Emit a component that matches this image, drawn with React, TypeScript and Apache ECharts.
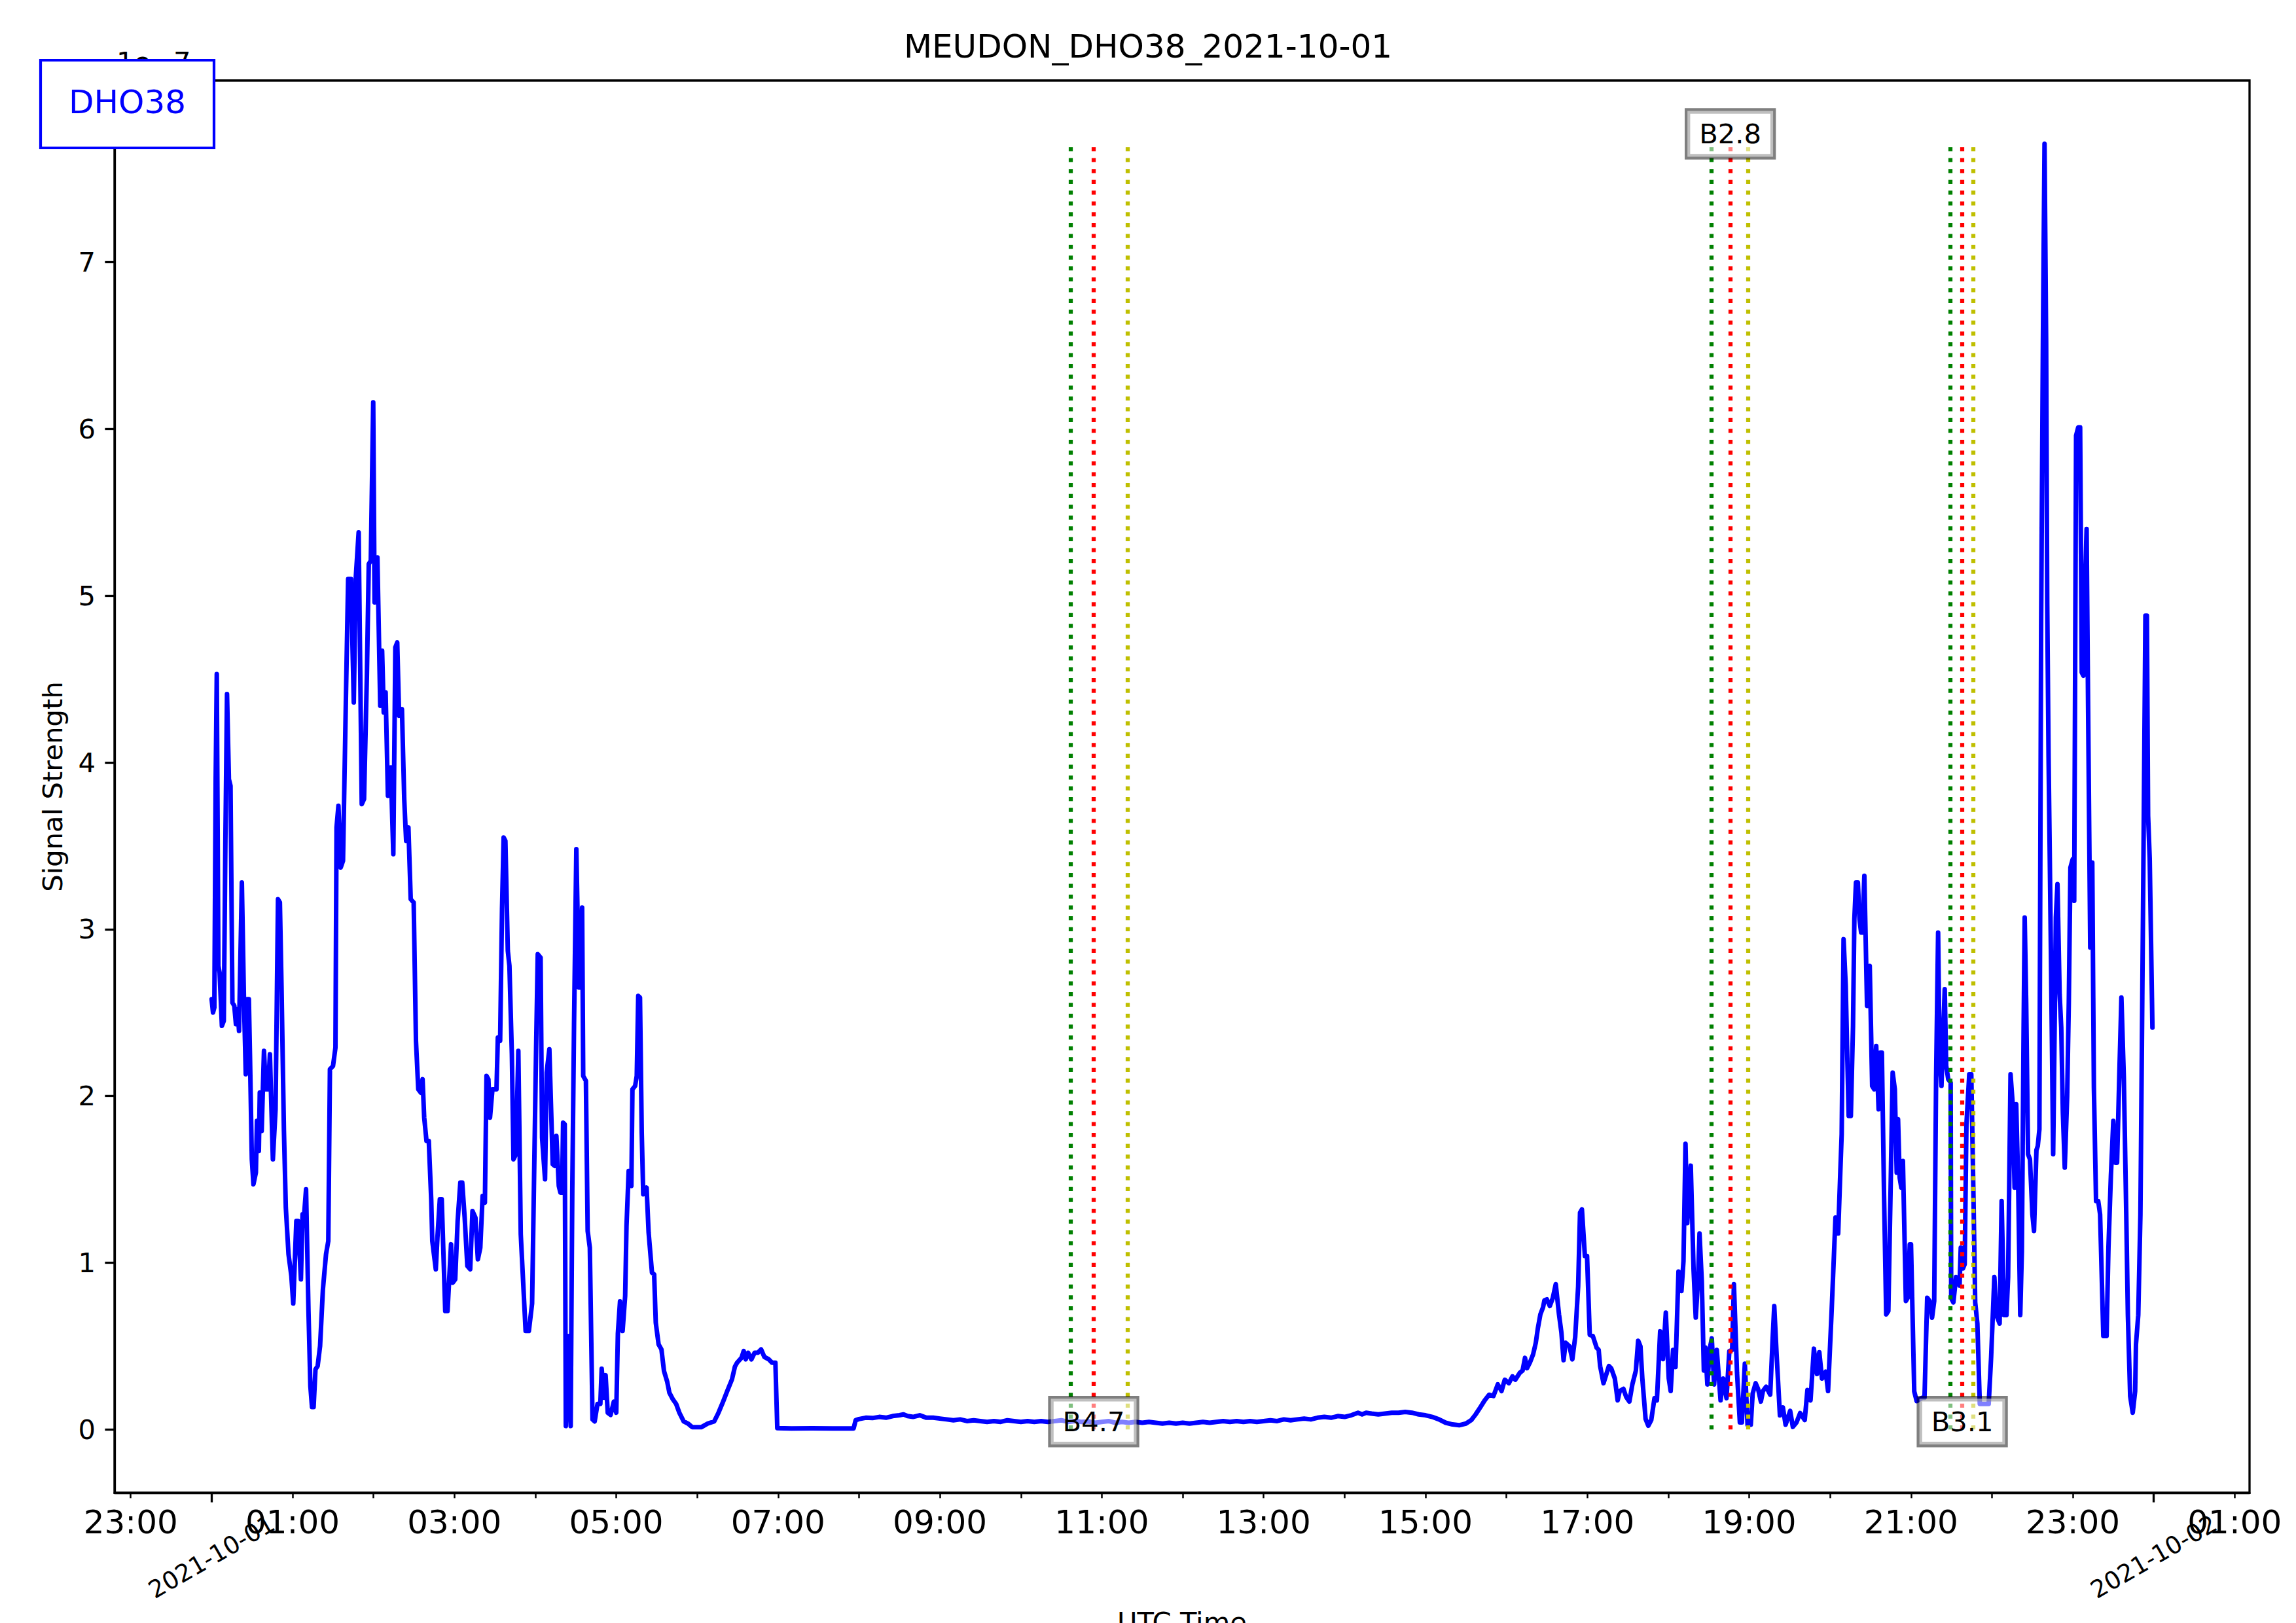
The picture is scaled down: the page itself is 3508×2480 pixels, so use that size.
import React, { useEffect, useRef } from "react";
import * as echarts from "echarts";

const FONT = "DejaVu Sans";

// time in minutes after 2021-10-01 00:00 UTC
const minutes: number[] = [
  0, 1, 2, 3, 3.8, 5.0, 5.9, 7.6, 9.0, 10.2, 11.4, 12.8, 14.0, 15.4, 16.8, 18.0, 19.2, 20.3, 22.4, 24.0,
  25.3, 26.4, 27.6, 28.4, 29.8, 31.0, 32.8, 33.6, 35.0, 35.7, 37.1, 38.8, 40.2, 41.9, 43.2, 45.4, 47.4, 49.2, 50.6, 51.8,
  53.6, 55.0, 57.0, 59.1, 60.5, 62.8, 64.0, 66.2, 67.4, 68.6, 70.0, 71.8, 73.2, 74.4, 75.6, 77.0, 78.6, 80.4, 82.5, 84.8,
  86.5, 87.7, 90.0, 91.8, 92.6, 94.0, 95.7, 97.4, 99.5, 101.2, 103.3, 105.4, 106.8, 109.0, 111.3, 113.0, 115.1, 116.5, 118.0, 119.8,
  120.8, 122.9, 125.0, 126.4, 127.6, 129.0, 130.7, 132.8, 134.7, 136.2, 137.6, 139.0, 141.1, 142.8, 144.2, 145.9, 147.6, 149.8, 151.5, 153.2,
  155.0, 156.4, 157.6, 159.3, 161.0, 162.8, 163.6, 166.2, 167.4, 169.2, 170.6, 173.2, 174.9, 177.5, 178.8, 180.6, 182.4, 184.4, 185.8, 187.6,
  189.6, 191.7, 193.4, 195.6, 197.4, 199.2, 200.9, 202.6, 203.8, 205.2, 206.4, 208.2, 211.2, 212.2, 213.9, 215.3, 216.5, 217.8, 219.6, 220.8,
  222.6, 223.8, 225.6, 227.4, 229.2, 231.0, 232.8, 235.2, 237.6, 240.6, 241.8, 243.9,
  245.0, 247.2, 248.4, 250.4, 252.9, 254.4, 255.6, 257.4, 258.6, 259.8, 260.6, 261.8, 262.6, 265.0, 266.2, 267.4, 268.7, 270.4, 271.5, 272.3,
  273.6, 274.7, 275.5, 277.5, 278.8, 280.4, 282.4, 284.0, 286.1, 288.2, 289.2, 291.0, 292.1, 293.7, 295.8, 298.2, 300.0, 301.2, 302.8, 304.7,
  306.6, 307.6, 309.2, 311.2, 312.0, 314.0, 315.2, 316.3, 317.6, 318.9, 320.0, 322.5, 324.0, 326.5, 328.1, 329.3, 331.4, 333.5, 335.4, 337.8,
  339.4, 342.0, 344.4, 346.8, 350.0, 353.2, 356.4, 363.0, 367.8, 372.6, 375.8, 379.2, 382.3, 385.8, 388.0, 389.6, 392.9, 394.5, 396.0, 397.8,
  400.2, 402.6, 405.0, 407.4, 409.8, 413.1, 415.5, 418.0, 419.4,
  430, 445, 460, 476, 477.5, 480, 485, 490, 495, 500, 505, 510, 513, 516, 520, 525, 530, 535, 540, 545,
  550, 555, 560, 565, 570, 575, 580, 585, 590, 595, 600, 605, 610, 615, 620, 625, 630, 635, 640, 645,
  650, 655, 660, 665, 670, 675, 680, 685, 690, 695, 700, 705, 710, 715, 720, 725, 730, 735, 740, 745,
  750, 755, 760, 765, 770, 775, 780, 785, 790, 795, 800, 805, 810, 815, 820, 825, 830, 835, 840, 845,
  850, 853, 856, 860, 865, 870, 875, 880, 885, 890, 895, 900, 905, 910, 915, 920, 925, 930, 934,
  937.2, 940.6, 943.8, 947.2, 950.4, 953.6, 956.4, 958.8, 961.8, 964.5, 966.6, 969.9, 972.0, 973.8, 975.3, 977.4, 979.8, 981.8, 983.4, 985.2,
  987.2, 988.2, 990.0, 992.2, 994.4, 996.6, 999.0, 1000.8, 1002.4, 1003.9, 1006.8, 1008.9, 1011.0, 1013.2, 1014.6, 1016.0, 1018.2, 1019.8, 1021.8, 1024.1,
  1026.9, 1028.4, 1029.5, 1032.0, 1036.0, 1037.7, 1040.4, 1042.5, 1044.0, 1046.8, 1048.8, 1051.2, 1053.4, 1056.0, 1057.7, 1059.4, 1060.8, 1063.2, 1065.2, 1067.4,
  1069.8, 1071.6, 1074.0, 1076.1, 1078.2, 1080.4, 1081.8, 1083.6, 1085.4, 1087.6, 1089.8, 1091.3, 1092.8, 1094.1, 1096.7, 1098.8, 1100.4, 1102.1, 1103.2, 1104.9,
  1106.4, 1107.5, 1109.0, 1110.8, 1112.3, 1114.0, 1116.0, 1118.8, 1120.8, 1123.2, 1125.3, 1127.4, 1128.7, 1131.0, 1133.1, 1134.6, 1136.8, 1138.8, 1141.2, 1142.6,
  1144.8, 1146.6, 1148.7, 1150.2, 1152.6, 1155.6, 1157.4, 1158.6, 1160.4, 1162.8, 1165.0, 1167.0, 1170.4, 1172.4, 1175.1, 1177.8, 1181.2, 1183.2, 1185.5, 1188.0,
  1190.3, 1192.0, 1194.0, 1196.8, 1198.5, 1201.2, 1204.0, 1206.0, 1207.6, 1208.6, 1210.0, 1211.6, 1212.8, 1213.8, 1215.4, 1217.0, 1218.0, 1219.2, 1220.6, 1221.8,
  1223.0, 1224.0, 1225.4, 1226.7, 1227.4, 1228.7, 1229.4, 1231.2, 1232.7, 1234.2, 1236.0, 1237.2, 1238.4, 1240.0, 1241.6, 1243.2, 1244.8, 1246.4, 1248.0, 1249.4,
  1250.4, 1251.6, 1252.8, 1254.0, 1256.2, 1257.6, 1259.1, 1260.0, 1262.4, 1264.2, 1268.4, 1270.0, 1272.0, 1273.8, 1275.6, 1277.2, 1278.6, 1280.1, 1281.2, 1282.6,
  1283.7, 1285.0, 1286.1, 1287.6, 1289.4, 1289.8, 1291.4, 1293.4, 1296.0, 1296.9, 1298.5, 1299.8, 1301.1, 1303.2, 1304.7, 1306.2, 1307.6, 1309.2, 1311.0, 1314.0,
  1317.6, 1319.4, 1321.8, 1323.3, 1325.7, 1327.2, 1329.0, 1330.8, 1332.0, 1333.8, 1335.4, 1336.8, 1338.0, 1339.4, 1341.0, 1342.2, 1343.5, 1344.3, 1345.4, 1346.8,
  1348.2, 1350.0, 1351.2, 1353.0, 1354.0, 1355.2, 1356.5, 1357.8, 1359.0, 1360.2, 1361.0, 1362.0, 1363.8, 1365.4, 1366.5, 1367.4, 1368.6, 1370.2, 1371.4, 1372.6,
  1374.0, 1375.8, 1377.0, 1378.2, 1379.9, 1381.0, 1382.4, 1384.0, 1385.4, 1386.6, 1387.8, 1389.0, 1390.2, 1391.3, 1392.9, 1394.4, 1395.6, 1397.2, 1398.8, 1400.2,
  1402.6, 1405.0, 1406.4, 1408.2, 1410.0, 1411.5, 1412.8, 1414.4, 1416.0, 1417.8, 1419.6, 1420.8, 1422.5, 1424.4, 1426.2, 1426.8, 1428.5, 1430.1, 1431.2, 1432.5,
  1433.8, 1434.9, 1435.8, 1437.0, 1439.0,
];

// signal strength in units of 1e-7
const signal: number[] = [
  2.58, 2.50, 2.53, 3.90, 4.53, 2.78, 2.74, 2.42, 2.45, 3.53, 4.41, 3.90, 3.86, 2.56, 2.54, 2.43, 2.52, 2.39, 3.28, 2.56,
  2.13, 2.58, 2.58, 2.25, 1.62, 1.47, 1.54, 1.85, 1.67, 2.02, 1.79, 2.27, 2.04, 2.04, 2.25, 1.62, 1.92, 3.18, 3.16, 2.66,
  1.79, 1.33, 1.05, 0.92, 0.755, 1.25, 1.25, 0.90, 1.29, 1.29, 1.44, 0.71, 0.26, 0.134, 0.134, 0.36, 0.38, 0.50, 0.84, 1.05,
  1.13, 2.16, 2.18, 2.29, 3.61, 3.74, 3.37, 3.41, 4.36, 5.10, 5.10, 4.36, 5.10, 5.38, 3.75, 3.78, 4.52, 5.19, 5.21, 6.16,
  4.96, 5.23, 4.34, 4.67, 4.30, 4.42, 3.80, 3.97, 3.45, 4.69, 4.72, 4.28, 4.32, 3.78, 3.53, 3.61, 3.18, 3.16, 2.33, 2.04,
  2.02, 2.10, 1.87, 1.73, 1.73, 1.38, 1.13, 0.96, 1.15, 1.38, 1.38, 0.71, 0.71, 1.11, 0.88, 0.90, 1.25, 1.48, 1.48, 1.27,
  0.98, 0.96, 1.31, 1.27, 1.02, 1.09, 1.40, 1.36, 2.12, 2.10, 1.87, 2.04, 2.04, 2.35, 2.33, 3.12, 3.55, 3.53, 2.87, 2.78,
  2.25, 1.62, 1.65, 2.27, 1.17, 0.88, 0.59, 0.59, 0.755, 2.30, 2.85, 2.83,
  1.75, 1.50, 2.14, 2.28, 1.59, 1.58, 1.76, 1.46, 1.42, 1.42, 1.84, 1.83, 0.02, 0.56, 0.02, 1.43, 2.43, 3.48, 3.01, 2.65,
  2.65, 3.13, 2.12, 2.09, 1.19, 1.09, 0.06, 0.048, 0.153, 0.153, 0.364, 0.19, 0.325, 0.10, 0.087, 0.166, 0.10, 0.575, 0.768, 0.59,
  0.80, 1.22, 1.55, 1.46, 2.04, 2.06, 2.12, 2.60, 2.59, 1.78, 1.41, 1.45, 1.18, 0.94, 0.93, 0.64, 0.51, 0.48, 0.35, 0.285,
  0.22, 0.18, 0.153, 0.10, 0.048, 0.035, 0.013, 0.013, 0.035, 0.048, 0.10, 0.166, 0.23, 0.30, 0.377, 0.40, 0.43, 0.47, 0.42, 0.46,
  0.42, 0.46, 0.46, 0.48, 0.435, 0.42, 0.40, 0.40, 0.008,
  0.006, 0.007, 0.006, 0.006, 0.055, 0.062, 0.07, 0.068, 0.075, 0.07, 0.08, 0.085, 0.09, 0.08, 0.075, 0.085, 0.07, 0.07, 0.065, 0.06,
  0.055, 0.06, 0.05, 0.055, 0.05, 0.045, 0.05, 0.045, 0.055, 0.05, 0.045, 0.05, 0.045, 0.05, 0.045, 0.05, 0.055, 0.045, 0.05, 0.045,
  0.048, 0.04, 0.045, 0.05, 0.04, 0.045, 0.04, 0.045, 0.04, 0.045, 0.04, 0.035, 0.04, 0.035, 0.04, 0.035, 0.04, 0.045, 0.04, 0.045,
  0.05, 0.045, 0.05, 0.045, 0.05, 0.045, 0.05, 0.055, 0.05, 0.06, 0.055, 0.06, 0.065, 0.06, 0.07, 0.075, 0.07, 0.08, 0.075, 0.085,
  0.1, 0.09, 0.1, 0.095, 0.09, 0.095, 0.1, 0.1, 0.105, 0.1, 0.09, 0.085, 0.075, 0.06, 0.04, 0.03, 0.025, 0.035, 0.056,
  0.09, 0.132, 0.173, 0.208, 0.20, 0.27, 0.23, 0.298, 0.277, 0.318, 0.298, 0.339, 0.353, 0.429, 0.367, 0.40, 0.45, 0.52, 0.61, 0.69,
  0.733, 0.774, 0.78, 0.74, 0.788, 0.871, 0.69, 0.58, 0.415, 0.52, 0.498, 0.42, 0.553, 0.857, 1.30, 1.32, 1.04, 1.04, 0.567, 0.56,
  0.49, 0.477, 0.38, 0.277, 0.38, 0.367, 0.305, 0.174, 0.23, 0.243, 0.195, 0.167, 0.27, 0.353, 0.532, 0.498, 0.305, 0.063, 0.022, 0.056,
  0.187, 0.174, 0.588, 0.422, 0.70, 0.305, 0.23, 0.477, 0.374, 0.947, 0.83, 1.009, 1.713, 1.237, 1.582, 0.954, 0.671, 0.899, 1.175, 0.885,
  0.353, 0.491, 0.27, 0.484, 0.546, 0.27, 0.477, 0.174, 0.305, 0.187, 0.47, 0.477, 0.871, 0.339, 0.042, 0.042, 0.394, 0.028, 0.028, 0.215,
  0.277, 0.243, 0.167, 0.23, 0.256, 0.208, 0.54, 0.74, 0.443, 0.084, 0.132, 0.028, 0.111, 0.015, 0.042, 0.098, 0.056, 0.236, 0.174, 0.484,
  0.332, 0.463, 0.305, 0.346, 0.23, 0.719, 1.27, 1.175, 1.548, 1.77, 2.94, 2.66, 2.22, 1.88, 1.88, 2.42, 3.06, 3.28, 3.28, 3.06,
  2.98, 2.98, 3.32, 2.82, 2.54, 2.54, 2.78, 2.06, 2.04, 2.30, 1.92, 2.26, 2.26, 1.41, 0.69, 0.71, 1.41, 2.14, 2.04, 1.54,
  1.86, 1.51, 1.45, 1.61, 0.77, 0.79, 1.11, 1.11, 0.228, 0.17, 0.19, 0.19, 0.79, 0.77, 0.67, 0.77, 2.1, 2.98, 2.22, 2.06,
  2.34, 2.64, 2.18, 2.10, 2.08, 0.787, 0.762, 0.914, 0.863, 1.09, 0.965, 0.99, 1.83, 2.13, 2.13, 1.45, 0.762, 0.635, 0.153, 0.153,
  0.153, 0.432, 0.914, 0.686, 0.635, 1.37, 0.686, 0.686, 0.914, 2.13, 1.95, 1.45, 1.95, 1.50, 0.686, 1.07, 2.41, 3.07, 2.56, 1.65,
  1.62, 1.29, 1.19, 1.675, 1.70, 1.8, 4.85, 6.52, 7.71, 6.52, 4.95, 4.03, 2.82, 1.65, 2.41, 3.07, 3.27, 2.61, 2.41, 1.9,
  1.57, 2.0, 2.56, 3.37, 3.42, 3.17, 5.96, 6.01, 6.01, 4.54, 4.52, 5.05, 5.40, 4.34, 2.89, 3.4, 2.05, 1.37, 1.37, 1.29,
  0.56, 0.56, 1.09, 1.52, 1.85, 1.6, 1.6, 2.11, 2.59, 2.11, 1.29, 0.686, 0.2, 0.1, 0.23, 0.51, 0.686, 1.29, 2.31, 3.57,
  4.88, 4.88, 3.68, 3.42, 2.41,
];

const flareStart = ["10:37", "18:32", "21:29"];
const flarePeak = ["10:54", "18:46", "21:38"];
const flareEnd = ["11:19", "18:59", "21:46"];
const flareClass = ["B4.7", "B2.8", "B3.1"];
const flareLabelLevel = [0.047, 7.77, 0.047];

const hourTickValues = [
  -60, 0, 60, 120, 180, 240, 300, 360, 420, 480, 540, 600, 660, 720, 780, 840, 900, 960, 1020, 1080,
  1140, 1200, 1260, 1320, 1380, 1440, 1500,
];
const hourLabelValues = [-60, 60, 180, 300, 420, 540, 660, 780, 900, 1020, 1140, 1260, 1380, 1500];
const hourLabelText = [
  "23:00", "01:00", "03:00", "05:00", "07:00", "09:00", "11:00", "13:00", "15:00", "17:00", "19:00", "21:00", "23:00", "01:00",
];
const dayTickValues = [0, 1440];
const dayLabelText = ["2021-10-01", "2021-10-02"];
const yTickValues = [0, 1, 2, 3, 4, 5, 6, 7];

const toMin = (s: string) => {
  const [h, m] = s.split(":").map(Number);
  return h * 60 + m;
};

export default function App() {
  const ref = useRef<HTMLDivElement>(null);

  useEffect(() => {
    if (!ref.current) return;
    const chart = echarts.init(ref.current, null, { renderer: "svg" });

    const lineData = minutes.map((m, i) => [m, signal[i]]);
    const vTop = Math.max(...signal);
    const vlineColors = ["#008000", "#ff0000", "#bfbf00"];
    const vlines: any[] = [];
    flareStart.forEach((_, i) => {
      [flareStart[i], flarePeak[i], flareEnd[i]].forEach((t, k) => {
        const x = toMin(t);
        vlines.push({
          coords: [
            [x, 0],
            [x, vTop],
          ],
          lineStyle: { color: vlineColors[k] },
        });
      });
    });
    const labelData = flarePeak.map((t, i) => [toMin(t), flareLabelLevel[i]]);

    const option: any = {
      animation: false,
      backgroundColor: "#ffffff",
      title: {
        text: "MEUDON_DHO38_2021-10-01",
        left: "center",
        top: 41,
        textStyle: { fontFamily: FONT, fontSize: 50, fontWeight: "normal", color: "#000" },
      },
      grid: {
        left: 175,
        right: 71,
        top: 123,
        bottom: 199,
        show: true,
        borderColor: "#000",
        borderWidth: 3.3,
        backgroundColor: "transparent",
        containLabel: false,
        outerBoundsMode: "none",
      },
      xAxis: [
        {
          type: "value",
          min: -72,
          max: 1511,
          position: "bottom",
          axisLine: { show: true, onZero: false, lineStyle: { color: "#000", width: 3.3 } },
          axisTick: {
            show: true,
            customValues: hourTickValues,
            length: 8.3,
            lineStyle: { color: "#000", width: 2.5 },
          },
          axisLabel: {
            customValues: hourLabelValues,
            formatter: (v: number) => hourLabelText[hourLabelValues.indexOf(v)] ?? "",
            fontFamily: FONT,
            fontSize: 50,
            color: "#000",
            margin: 20,
          },
          splitLine: { show: false },
          name: "UTC Time",
          nameLocation: "middle",
          nameGap: 176,
          nameTextStyle: { fontFamily: FONT, fontSize: 41.7, color: "#000" },
        },
        {
          type: "value",
          min: -72,
          max: 1511,
          position: "bottom",
          offset: 0,
          axisLine: { show: false, onZero: false },
          axisTick: {
            show: true,
            customValues: dayTickValues,
            length: 14.6,
            lineStyle: { color: "#000", width: 3.3 },
          },
          axisLabel: {
            customValues: dayTickValues,
            formatter: (v: number) => dayLabelText[dayTickValues.indexOf(v)] ?? "",
            rotate: 30,
            align: "center",
            verticalAlign: "middle",
            fontFamily: FONT,
            fontSize: 37,
            color: "#000",
            margin: 98,
          },
          splitLine: { show: false },
        },
      ],
      yAxis: {
        type: "value",
        min: -0.38,
        max: 8.09,
        axisLine: { show: true, onZero: false, lineStyle: { color: "#000", width: 3.3 } },
        axisTick: {
          show: true,
          customValues: yTickValues,
          length: 14.6,
          lineStyle: { color: "#000", width: 3.3 },
        },
        axisLabel: {
          customValues: yTickValues,
          fontFamily: FONT,
          fontSize: 41.7,
          color: "#000",
          margin: 29,
        },
        splitLine: { show: false },
        name: "Signal Strength",
        nameLocation: "middle",
        nameGap: 74,
        nameRotate: 90,
        nameTextStyle: { fontFamily: FONT, fontSize: 41.7, color: "#000" },
      },
      series: [
        {
          type: "line",
          data: lineData,
          showSymbol: false,
          symbol: "none",
          lineStyle: { color: "#0000ff", width: 7, join: "round", cap: "round" },
          z: 2,
        },
        {
          type: "lines",
          coordinateSystem: "cartesian2d",
          data: vlines,
          lineStyle: { width: 6.25, type: [6.25, 10.3], cap: "butt", opacity: 1 },
          z: 3,
        },
        {
          type: "scatter",
          data: labelData,
          symbolSize: 1,
          itemStyle: { color: "rgba(0,0,0,0)", opacity: 1 },
          label: {
            show: true,
            position: "inside",
            formatter: (p: any) => flareClass[p.dataIndex],
            fontFamily: FONT,
            fontSize: 41.7,
            color: "#000000",
            opacity: 1,
            textBorderWidth: 0,
            textBorderColor: "transparent",
            backgroundColor: "rgba(255,255,255,0.5)",
            borderColor: "rgba(0,0,0,0.5)",
            borderWidth: 4.2,
            padding: [14, 18],
          },
          emphasis: { disabled: true },
          z: 10,
        },
      ],
      graphic: [
        {
          type: "text",
          left: 178,
          top: 73,
          z: 5,
          style: { text: "1e\u22127", fontFamily: FONT, fontSize: 41.7, fill: "#000" },
        },
        {
          type: "rect",
          z: 100,
          shape: { x: 62, y: 92, width: 265, height: 134 },
          style: { fill: "#ffffff", stroke: "#0000ff", lineWidth: 4.2 },
        },
        {
          type: "text",
          z: 101,
          x: 194.5,
          y: 156,
          style: {
            text: "DHO38",
            fontFamily: FONT,
            fontSize: 50,
            fill: "#0000ff",
            align: "center",
            verticalAlign: "middle",
          },
        },
      ],
    };

    chart.setOption(option);
    return () => chart.dispose();
  }, []);

  return (
    <div
      ref={ref}
      style={{ position: "fixed", left: 0, top: 0, width: 3508, height: 2480, background: "#fff" }}
    />
  );
}
